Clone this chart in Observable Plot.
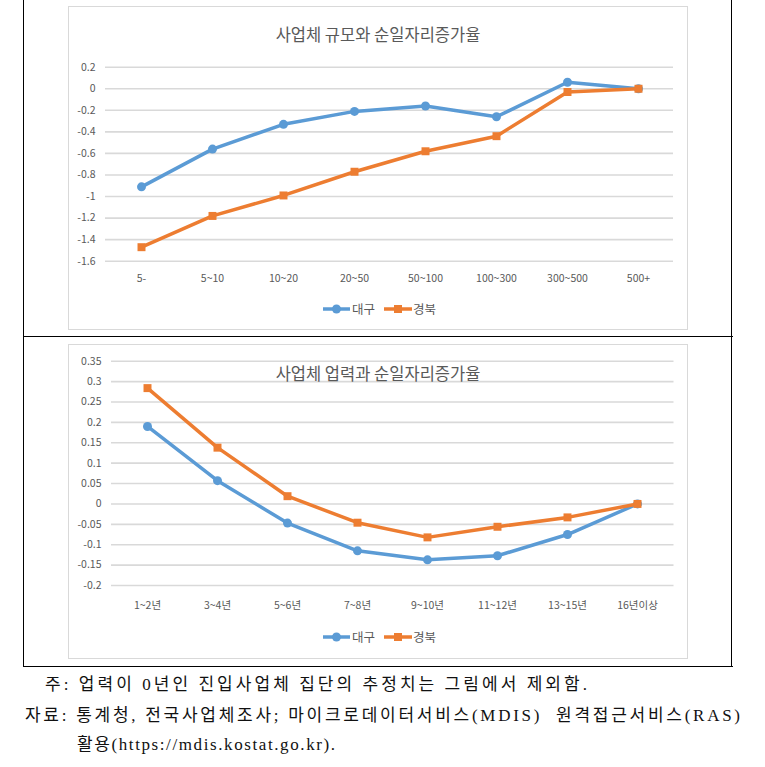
<!DOCTYPE html>
<html><head><meta charset="utf-8">
<script src="https://cdn.jsdelivr.net/npm/d3@7"></script>
<script src="https://cdn.jsdelivr.net/npm/@observablehq/plot@0.6"></script>
<style>
body{margin:0;background:#fff;}
#page{position:relative;width:765px;height:767px;overflow:hidden;font-family:"Noto Sans CJK KR","Noto Sans",sans-serif;}
.frame{position:absolute;border:1px solid #d9d9d9;box-sizing:border-box;}
.chart{position:absolute;}
.title{position:absolute;color:#595959;font-size:16.5px;white-space:nowrap;transform:translate(-50%,-50%);line-height:1;}
.bl{position:absolute;background:#000;}
.legend{position:absolute;}
</style></head>
<body><div id="page"></div>
<script>
// ---- data ----
const sizeCats = ["5-", "5~10", "10~20", "20~50", "50~100", "100~300", "300~500", "500+"];
const sizeDaegu = [-0.91, -0.56, -0.33, -0.21, -0.16, -0.26, 0.06, 0];
const sizeGyeongbuk = [-1.47, -1.18, -0.99, -0.77, -0.58, -0.44, -0.03, 0];
const sizeTicks = [0.2, 0, -0.2, -0.4, -0.6, -0.8, -1, -1.2, -1.4, -1.6];

const ageCats = ["1~2년", "3~4년", "5~6년", "7~8년", "9~10년", "11~12년", "13~15년", "16년이상"];
const ageDaegu = [0.19, 0.057, -0.047, -0.115, -0.137, -0.127, -0.075, 0];
const ageGyeongbuk = [0.284, 0.138, 0.019, -0.046, -0.082, -0.056, -0.033, 0];
const ageTicks = [0.35, 0.3, 0.25, 0.2, 0.15, 0.1, 0.05, 0, -0.05, -0.1, -0.15, -0.2];

const seriesNames = ["대구", "경북"];
const colors = ["#5B9BD5", "#ED7D31"];
const titles = ["사업체 규모와 순일자리증가율", "사업체 업력과 순일자리증가율"];
const notes = [
  "주: 업력이 0년인 진입사업체 집단의 추정치는 그림에서 제외함.",
  "자료: 통계청, 전국사업체조사; 마이크로데이터서비스(MDIS)  원격접근서비스(RAS)",
  "활용(https://mdis.kostat.go.kr)."
];

const page = document.getElementById("page");
function add(html){ const d=document.createElement("div"); d.innerHTML=html; const el=d.firstElementChild; page.appendChild(el); return el; }

function rows(cats, vals, name){ return cats.map((c,i)=>({cat:c, value:vals[i], series:name})); }

function makeChart(cats, a, b, ticks, cfg){
  const ra = rows(cats, a, seriesNames[0]);
  const rb = rows(cats, b, seriesNames[1]);
  const fontFamily = '"Noto Sans CJK KR","Noto Sans",sans-serif';
  return Plot.plot({
    width: cfg.width, height: cfg.height,
    marginLeft: cfg.ml, marginRight: cfg.mr, marginTop: cfg.mt, marginBottom: cfg.mb,
    x: {type: "point", domain: cats, padding: 0.5},
    y: {domain: [ticks[ticks.length-1], ticks[0]]},
    style: {fontFamily, fontSize: "10.5px", color: "#595959", background: "transparent", overflow: "visible"},
    marks: [
      Plot.ruleY(ticks, {stroke: "#d9d9d9", strokeWidth: 1.6}),
      Plot.axisY({ticks, tickSize: 0, tickPadding: 10, tickFormat: d => String(d), label: null, fill: "#595959"}),
      Plot.axisX({tickSize: 0, tickPadding: cfg.xpad, label: null, fill: "#595959"}),
      Plot.line(ra, {x: "cat", y: "value", stroke: colors[0], strokeWidth: 3.5}),
      Plot.dot(ra, {x: "cat", y: "value", r: 4.5, fill: colors[0], symbol: "circle"}),
      Plot.line(rb, {x: "cat", y: "value", stroke: colors[1], strokeWidth: 3.5}),
      Plot.dot(rb, {x: "cat", y: "value", r: 4.5, fill: colors[1], symbol: "square"})
    ]
  });
}

function legend(top){
  const svg = `<svg class="legend" style="left:318px;top:${top-10}px" width="130" height="20">
    <line x1="5" y1="10" x2="32" y2="10" stroke="${colors[0]}" stroke-width="3.5"/>
    <circle cx="18.5" cy="10" r="4.5" fill="${colors[0]}"/>
    <text x="34" y="10" dy="0.36em" font-size="12.5" fill="#595959" font-family="Noto Sans CJK KR">${seriesNames[0]}</text>
    <line x1="66" y1="10" x2="94" y2="10" stroke="${colors[1]}" stroke-width="3.5"/>
    <rect x="76" y="6" width="8" height="8" fill="${colors[1]}"/>
    <text x="95" y="10" dy="0.36em" font-size="12.5" fill="#595959" font-family="Noto Sans CJK KR">${seriesNames[1]}</text>
  </svg>`;
  add(svg);
}

// frames
add('<div class="frame" style="left:68px;top:6px;width:620px;height:324px"></div>');
add('<div class="frame" style="left:68px;top:344px;width:620px;height:315px"></div>');

// top chart
const c1 = makeChart(sizeCats, sizeDaegu, sizeGyeongbuk, sizeTicks,
  {width: 619, height: 323, ml: 37, mr: 14, mt: 60.7, mb: 68.3, xpad: 13});
c1.classList.add("chart"); c1.style.left = "68px"; c1.style.top = "6px";
page.appendChild(c1);
add(`<div class="title" style="left:378px;top:33.5px">${titles[0]}</div>`);
legend(308.5);

// bottom chart
const c2 = makeChart(ageCats, ageDaegu, ageGyeongbuk, ageTicks,
  {width: 619, height: 314, ml: 43, mr: 13.5, mt: 16.7, mb: 73, xpad: 16.5});
c2.classList.add("chart"); c2.style.left = "68px"; c2.style.top = "344px";
page.appendChild(c2);
add(`<div class="title" style="left:378px;top:373px">${titles[1]}</div>`);
legend(636.5);

// black borders
add('<div class="bl" style="left:22.5px;top:0;width:1.5px;height:667px"></div>');
add('<div class="bl" style="left:730.5px;top:0;width:1.5px;height:667px"></div>');
add('<div class="bl" style="left:22.5px;top:335.5px;width:710px;height:1.5px"></div>');
add('<div class="bl" style="left:22.5px;top:665.5px;width:710px;height:1.5px"></div>');

// notes
const noteSpec = [{x:45, y:689.5, w:542}, {x:25, y:720.5, w:715}, {x:77, y:749.5, w:258}];
let ns = '<svg style="position:absolute;left:0;top:0" width="765" height="767">';
notes.forEach((t,i)=>{
  const s = noteSpec[i];
  ns += `<text x="${s.x}" y="${s.y}" textLength="${s.w}" lengthAdjust="spacing" font-size="17" fill="#111" font-family="Liberation Serif, Noto Sans CJK KR" xml:space="preserve">${t}</text>`;
});
ns += '</svg>';
add(ns);
</script>
</body></html>
